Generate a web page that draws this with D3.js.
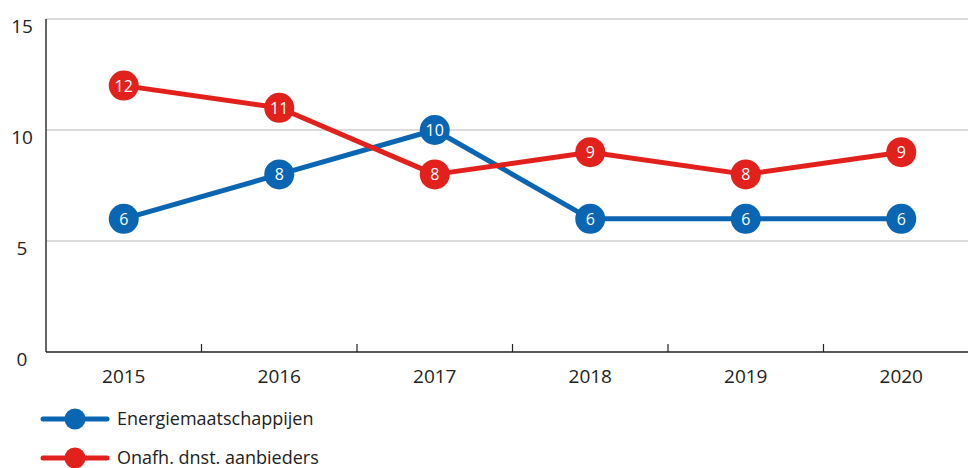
<!DOCTYPE html>
<html>
<head>
<meta charset="utf-8">
<script src="https://cdn.jsdelivr.net/npm/d3@7"></script>
<style>
  body { margin: 0; background: #fff; }
  svg { display: block; font-family: 'Open Sans', sans-serif; }
</style>
</head>
<body>
<div id="chart"></div>
<script>
const years = ['2015', '2016', '2017', '2018', '2019', '2020']
const energie = [6, 8, 10, 6, 6, 6]
const onafh = [12, 11, 8, 9, 8, 9]
const yTicks = [0, 5, 10, 15]
const seriesNames = ['Energiemaatschappijen', 'Onafh. dnst. aanbieders']

const width = 968
const height = 468
const colors = ['#0a66b2', '#e2211c']

const svg = d3.select('#chart').append('svg')
  .attr('width', width)
  .attr('height', height)

// schalen
const x = d3.scaleBand().domain(years).range([46, 979])
const y = d3.scaleLinear().domain([0, 15]).range([352, 19])

// rasterlijnen
svg.append('g')
  .selectAll('line')
  .data(yTicks.filter(d => d > 0))
  .enter().append('line')
  .attr('x1', 46).attr('x2', width)
  .attr('y1', d => y(d)).attr('y2', d => y(d))
  .style('stroke', '#cfcfcf')
  .style('stroke-width', 1.5)

// y labels
svg.append('g')
  .selectAll('text')
  .data(yTicks)
  .enter().append('text')
  .attr('x', 22)
  .attr('y', d => y(d) + 14)
  .attr('text-anchor', 'middle')
  .style('font-size', '19px')
  .style('fill', '#222')
  .text(d => d)

// assen
svg.append('line')
  .attr('x1', 46).attr('x2', 46)
  .attr('y1', y(15)).attr('y2', y(0))
  .style('stroke', '#333').style('stroke-width', 1.5)

svg.append('line')
  .attr('x1', 46).attr('x2', width)
  .attr('y1', y(0)).attr('y2', y(0))
  .style('stroke', '#222').style('stroke-width', 1.5)

svg.append('g')
  .selectAll('line')
  .data(years.slice(1))
  .enter().append('line')
  .attr('x1', d => x(d)).attr('x2', d => x(d))
  .attr('y1', y(0)).attr('y2', y(0) - 8)
  .style('stroke', '#222').style('stroke-width', 1.2)

svg.append('g')
  .selectAll('text')
  .data(years)
  .enter().append('text')
  .attr('x', d => x(d) + x.bandwidth() / 2)
  .attr('y', 383)
  .attr('text-anchor', 'middle')
  .style('font-size', '19px')
  .style('fill', '#222')
  .text(d => d)

// lijnen
const series = [energie, onafh]
const line = d3.line()
  .x((d, i) => x(years[i]) + x.bandwidth() / 2)
  .y(d => y(d))

series.forEach((values, s) => {
  const g = svg.append('g')
  g.append('path')
    .datum(values)
    .attr('d', line)
    .style('fill', 'none')
    .style('stroke', colors[s])
    .style('stroke-width', 5)
    .style('stroke-linejoin', 'round')

  g.selectAll('circle')
    .data(values)
    .enter().append('circle')
    .attr('cx', (d, i) => x(years[i]) + x.bandwidth() / 2)
    .attr('cy', d => y(d))
    .attr('r', 15)
    .style('fill', colors[s])

  g.selectAll('text')
    .data(values)
    .enter().append('text')
    .attr('x', (d, i) => x(years[i]) + x.bandwidth() / 2)
    .attr('y', d => y(d) + 6)
    .attr('text-anchor', 'middle')
    .style('font-size', '16px')
    .style('fill', '#fff')
    .text(d => d)
})

// legenda
const legend = svg.append('g')
seriesNames.forEach((name, s) => {
  const ly = 419 + s * 39
  legend.append('line')
    .attr('x1', 43).attr('x2', 107)
    .attr('y1', ly).attr('y2', ly)
    .style('stroke', colors[s])
    .style('stroke-width', 5)
    .style('stroke-linecap', 'round')
  legend.append('circle')
    .attr('cx', 75).attr('cy', ly)
    .attr('r', 10.5)
    .style('fill', colors[s])
  legend.append('text')
    .attr('x', 117)
    .attr('y', ly + 6)
    .style('font-size', '18px')
    .style('fill', '#222')
    .text(name)
})
</script>
</body>
</html>
